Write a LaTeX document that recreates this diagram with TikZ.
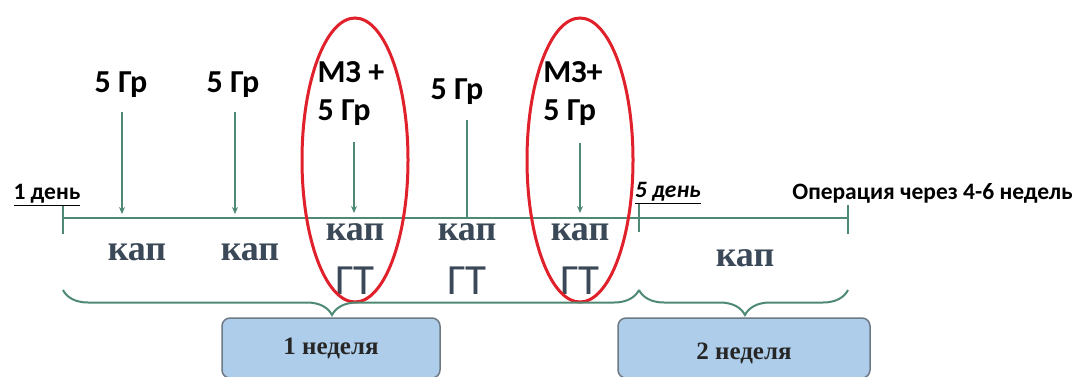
\documentclass[tikz,border=0pt]{standalone}
\usepackage{fontspec}
\setmainfont{Liberation Serif}
\newfontfamily\calib{Carlito}
\usetikzlibrary{decorations.pathreplacing,arrows.meta,calc}
\definecolor{tl}{HTML}{4E8A73}
\definecolor{txt}{HTML}{3A4858}
\definecolor{boxfill}{HTML}{AECDEA}
\definecolor{boxdraw}{HTML}{6D7983}
\definecolor{ell}{HTML}{E0202A}
\begin{document}
\begin{tikzpicture}[x=1pt,y=-1pt,
  tline/.style={draw=tl,line width=2pt},
  arr/.style={draw=tl,line width=1.5pt,-{Stealth[length=7pt,width=6pt]}},
  dose/.style={font=\calib\bfseries\fontsize{32}{38}\selectfont,inner sep=0pt,align=left},
  daylbl/.style={font=\calib\bfseries\fontsize{23.5}{26}\selectfont,inner sep=0pt},
  kap/.style={font=\bfseries\fontsize{36}{40}\selectfont,text=txt,inner sep=0pt},
  gt/.style={font=\calib\fontsize{43}{44}\selectfont,text=txt,inner sep=0pt},
  ring/.style={draw=ell,line width=3pt},
  brc/.style={draw=tl,line width=2pt,decorate,decoration={brace,mirror,amplitude=25pt}},
  week/.style={draw=boxdraw,line width=1.5pt,fill=boxfill,rounded corners=8pt,inner sep=0pt},
  wtxt/.style={font=\bfseries\fontsize{25}{27}\selectfont,text=black!85,inner sep=0pt}]
\useasboundingbox (0,0) rectangle (1075,376);
\fill[white] (0,0) rectangle (1075,376);

% timeline
\coordinate (d1) at (63,218);
\coordinate (d5) at (639,218);
\coordinate (op) at (848,218);
\draw[tline] (d1) -- (op);
\draw[tline] (63,205) -- (63,234);
\draw[tline] (639,203) -- (639,232);
\draw[tline] (848,205) -- (848,234);

% day labels
\node[daylbl] (l1) at (47,195) {\underline{1 день}};
\node[daylbl] (l5) at (668,193) {\itshape\underline{5 день}};
\node[daylbl,anchor=east] (lop) at (1073,193) {Операция через 4-6 недель};

% dose labels
\node[dose] (g1) at (121,85) {5 Гр};
\node[dose] (g2) at (233,85) {5 Гр};
\node[dose] (g3) at (351,94) {МЗ +\\5 Гр};
\node[dose] (g4) at (457,92) {5 Гр};
\node[dose] (g5) at (573,94) {МЗ+\\5 Гр};

\coordinate (s1) at (122,112); \coordinate (a1) at (122,214);
\coordinate (s2) at (235,112); \coordinate (a2) at (235,214);
\coordinate (s3) at (354,142); \coordinate (a3) at (354,213);
\coordinate (s4) at (467,120); \coordinate (a4) at (467,217);
\coordinate (s5) at (580,143); \coordinate (a5) at (580,213);
\draw[arr] (s1) -- (a1);
\draw[arr] (s2) -- (a2);
\draw[arr] (s3) -- (a3);
\draw[tl,line width=1.5pt,draw=tl] (s4) -- (a4);
\draw[arr] (s5) -- (a5);

% kap / GT
\node[kap] (k1) at (137,252) {кап};
\node[kap] (k2) at (250,252) {кап};
\node[kap] (k3) at (355,232) {кап};
\node[kap] (k4) at (467,232) {кап};
\node[kap] (k5) at (580,232) {кап};
\node[kap] (k6) at (745,258) {кап};
\node[gt] (t3) at (355,281) {ГТ};
\node[gt] (t4) at (467,281) {ГТ};
\node[gt] (t5) at (580,281) {ГТ};

% ellipses
\draw[ring] (355,160) ellipse [x radius=53, y radius=142];
\draw[ring] (580,160) ellipse [x radius=53, y radius=142];

% braces
\coordinate (b1s) at (63,290); \coordinate (b1e) at (639,290);
\coordinate (b2s) at (639,290); \coordinate (b2e) at (848,290);
\draw[brc,decoration={aspect=0.467}] (b1s) -- (b1e);
\draw[brc,decoration={aspect=0.507}] (b2s) -- (b2e);

% week boxes
\node[week,minimum width=218pt,minimum height=60pt] (w1) at (331,348) {};
\node[wtxt] at (w1.center) {1 неделя};
\node[week,minimum width=252pt,minimum height=60pt] (w2) at (744,348) {};
\node[wtxt] at ([yshift=-5pt]w2.center) {2 неделя};
\end{tikzpicture}
\end{document}
